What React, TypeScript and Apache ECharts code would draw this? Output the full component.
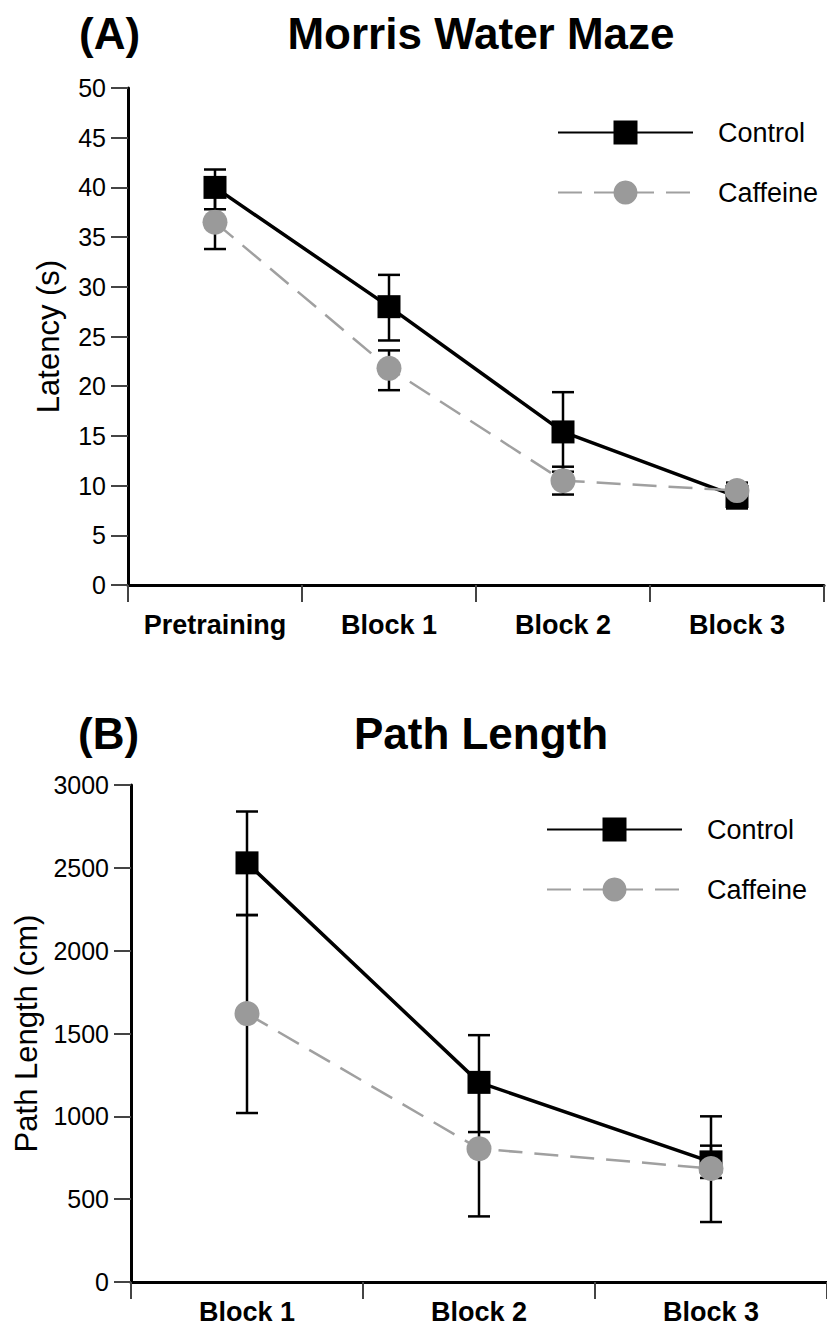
import React, { useEffect, useRef } from 'react';
import * as echarts from 'echarts';

// ---------- Panel A: Morris Water Maze (latency, s) ----------
const latencyCategories = ['Pretraining', 'Block 1', 'Block 2', 'Block 3'];
const latencyTicks = [0, 5, 10, 15, 20, 25, 30, 35, 40, 45, 50];
const latencyControl = [40.0, 28.0, 15.4, 8.9];
const latencyControlLow = [37.8, 24.6, 11.4, 7.7];
const latencyControlHigh = [41.8, 31.2, 19.4, 10.3];
const latencyCaffeine = [36.5, 21.8, 10.5, 9.5];
const latencyCaffeineLow = [33.8, 19.6, 9.1, 9.0];
const latencyCaffeineHigh = [39.2, 23.6, 11.9, 10.0];

// ---------- Panel B: Path Length (cm) ----------
const pathCategories = ['Block 1', 'Block 2', 'Block 3'];
const pathTicks = [0, 500, 1000, 1500, 2000, 2500, 3000];
const pathControl = [2530, 1205, 725];
const pathControlLow = [2215, 905, 628];
const pathControlHigh = [2840, 1490, 823];
const pathCaffeine = [1620, 805, 685];
const pathCaffeineLow = [1020, 396, 362];
const pathCaffeineHigh = [2215, 1210, 1000];

const seriesNames = ['Control', 'Caffeine'];

const FONT = '"Liberation Sans", Arial, Helvetica, sans-serif';
const GREY = '#9a9a9a';

function errorBars(name: string, axisIndex: number, lows: number[], highs: number[]) {
  return {
    type: 'custom',
    name,
    xAxisIndex: axisIndex,
    yAxisIndex: axisIndex,
    z: 2,
    silent: true,
    encode: { x: 0, y: [1, 2] },
    data: lows.map((l, i) => [i, l, highs[i]]),
    renderItem: (_params: any, api: any) => {
      const i = api.value(0);
      const lo = api.coord([i, api.value(1)]);
      const hi = api.coord([i, api.value(2)]);
      const w = 11;
      const st = { stroke: '#000', lineWidth: 2.5 };
      return {
        type: 'group',
        children: [
          { type: 'line', shape: { x1: lo[0], y1: lo[1], x2: hi[0], y2: hi[1] }, style: st },
          { type: 'line', shape: { x1: lo[0] - w, y1: lo[1], x2: lo[0] + w, y2: lo[1] }, style: st },
          { type: 'line', shape: { x1: hi[0] - w, y1: hi[1], x2: hi[0] + w, y2: hi[1] }, style: st },
        ],
      };
    },
  };
}

function controlLine(axisIndex: number, data: number[]) {
  return {
    name: seriesNames[0],
    type: 'line',
    xAxisIndex: axisIndex,
    yAxisIndex: axisIndex,
    data,
    symbol: 'rect',
    symbolSize: 23,
    z: 3,
    itemStyle: { color: '#000' },
    lineStyle: { color: '#000', width: 3.5 },
  };
}

function caffeineLine(axisIndex: number, data: number[]) {
  return {
    name: seriesNames[1],
    type: 'line',
    xAxisIndex: axisIndex,
    yAxisIndex: axisIndex,
    data,
    symbol: 'circle',
    symbolSize: 25,
    z: 4,
    itemStyle: { color: GREY },
    lineStyle: { color: '#a0a0a0', width: 2.5, type: [24, 12] },
  };
}

function xAxis(gridIndex: number, data: string[], margin: number) {
  return {
    type: 'category',
    gridIndex,
    data,
    boundaryGap: true,
    axisLine: { show: true, lineStyle: { color: '#000', width: 3 } },
    axisTick: { show: true, length: 17, alignWithLabel: false, interval: 0, lineStyle: { color: '#444', width: 2 } },
    axisLabel: { interval: 0, fontSize: 27, fontWeight: 'bold', color: '#000', margin, fontFamily: FONT },
    splitLine: { show: false },
  };
}

function yAxis(gridIndex: number, ticks: number[], name: string, nameGap: number) {
  return {
    type: 'value',
    gridIndex,
    min: ticks[0],
    max: ticks[ticks.length - 1],
    interval: ticks[1] - ticks[0],
    name,
    nameLocation: 'middle',
    nameGap,
    nameTextStyle: { fontSize: 31, color: '#000', fontFamily: FONT },
    axisLine: { show: true, lineStyle: { color: '#000', width: 3 } },
    axisTick: { show: true, length: 17, lineStyle: { color: '#444', width: 2 } },
    axisLabel: { fontSize: 25, color: '#000', margin: 22, fontFamily: FONT, formatter: (v: number) => String(v) },
    splitLine: { show: false },
  };
}

function legend(left: number, top: number) {
  return {
    left,
    top,
    padding: 0,
    orient: 'vertical',
    itemWidth: 135,
    itemHeight: 30,
    itemGap: 33,
    selectedMode: false,
    data: seriesNames,
    textStyle: { fontSize: 27, color: '#000', fontFamily: FONT, padding: [0, 0, 0, 20] },
  };
}

const titleStyle = { fontSize: 44, fontWeight: 'bold', color: '#000', fontFamily: FONT };

export default function App() {
  const ref = useRef<HTMLDivElement>(null);

  useEffect(() => {
    if (!ref.current) return;
    const chart = echarts.init(ref.current, null, { renderer: 'svg' });
    chart.setOption({
      animation: false,
      backgroundColor: '#fff',
      textStyle: { fontFamily: FONT },
      title: [
        { text: '(A)', left: 79, top: 11, padding: 0, textStyle: titleStyle },
        { text: 'Morris Water Maze', left: 481, top: 11, padding: 0, textAlign: 'center', textStyle: titleStyle },
        { text: '(B)', left: 78, top: 711, padding: 0, textStyle: titleStyle },
        { text: 'Path Length', left: 481, top: 711, padding: 0, textAlign: 'center', textStyle: titleStyle },
      ],
      legend: [legend(557, 119), legend(546, 816)],
      grid: [
        { left: 128, top: 88, width: 696, height: 497, containLabel: false, outerBoundsMode: 'none' },
        { left: 131, top: 785, width: 696, height: 497, containLabel: false, outerBoundsMode: 'none' },
      ],
      xAxis: [xAxis(0, latencyCategories, 26), xAxis(1, pathCategories, 16)],
      yAxis: [yAxis(0, latencyTicks, 'Latency (s)', 64), yAxis(1, pathTicks, 'Path Length (cm)', 88)],
      series: [
        errorBars('Control SEM A', 0, latencyControlLow, latencyControlHigh),
        errorBars('Caffeine SEM A', 0, latencyCaffeineLow, latencyCaffeineHigh),
        controlLine(0, latencyControl),
        caffeineLine(0, latencyCaffeine),
        errorBars('Control SEM B', 1, pathControlLow, pathControlHigh),
        errorBars('Caffeine SEM B', 1, pathCaffeineLow, pathCaffeineHigh),
        controlLine(1, pathControl),
        caffeineLine(1, pathCaffeine),
      ],
    });
    return () => chart.dispose();
  }, []);

  return (
    <div
      ref={ref}
      style={{ position: 'absolute', left: 0, top: 0, width: 827, height: 1334, background: '#fff' }}
    />
  );
}
